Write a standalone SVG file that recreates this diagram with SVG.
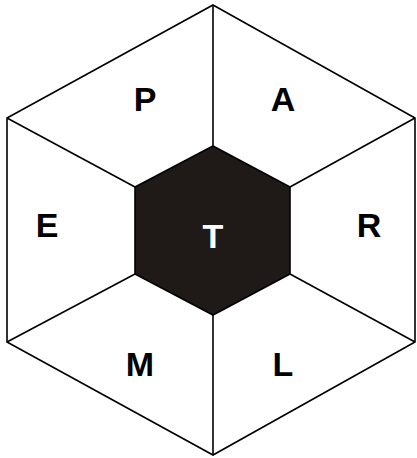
<svg xmlns="http://www.w3.org/2000/svg" width="417" height="458" viewBox="0 0 417 458">
<style>
.ln{fill:none;stroke:#000;stroke-width:1.6;stroke-linejoin:miter}
.lbl{font-family:"Liberation Sans",Arial,sans-serif;font-weight:bold;font-size:34px;text-anchor:middle;fill:#000}
</style>
<rect width="417" height="458" fill="#fff"/>
<g id="outer">
<polygon class="ln" points="213,5 415,118 415,342 213,455 7,342 7,118"/>
</g>
<g id="connectors">
<line class="ln" x1="213" y1="146" x2="213" y2="5"/>
<line class="ln" x1="213" y1="315" x2="213" y2="455"/>
<line class="ln" x1="135" y1="187" x2="7" y2="118"/>
<line class="ln" x1="135" y1="274" x2="7" y2="342"/>
<line class="ln" x1="290" y1="187" x2="415" y2="118"/>
<line class="ln" x1="290" y1="274" x2="415" y2="342"/>
</g>
<g id="T">
<polygon points="213,146 290,187 290,274 213,315 135,274 135,187" fill="#1f1a17" stroke="#000" stroke-width="1.6"/>
<text class="lbl" x="213" y="248" style="fill:#fff">T</text>
</g>
<g id="P"><text class="lbl" x="145" y="111">P</text></g>
<g id="A"><text class="lbl" x="283" y="111">A</text></g>
<g id="E"><text class="lbl" x="47" y="237">E</text></g>
<g id="R"><text class="lbl" x="369" y="237">R</text></g>
<g id="M"><text class="lbl" x="140" y="376">M</text></g>
<g id="L"><text class="lbl" x="283" y="376">L</text></g>
</svg>
